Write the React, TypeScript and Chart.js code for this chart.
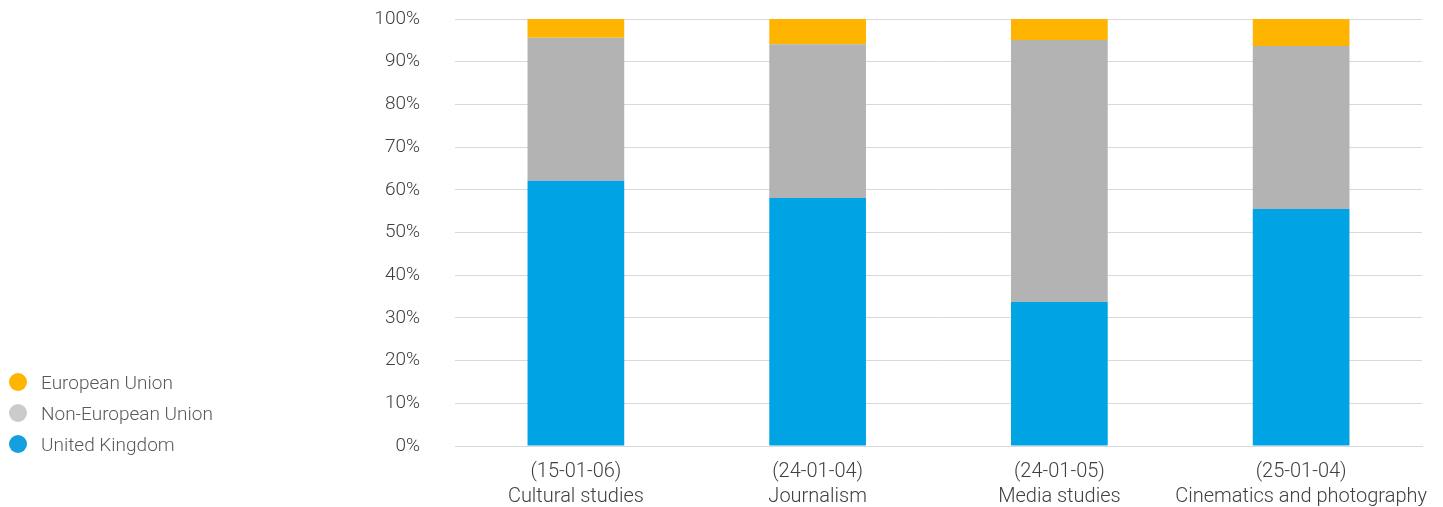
import React, { useEffect, useRef } from "react";
import { Chart, registerables } from "chart.js";

Chart.register(...registerables);

const categories: string[][] = [
  ["(15-01-06)", "Cultural studies"],
  ["(24-01-04)", "Journalism"],
  ["(24-01-05)", "Media studies"],
  ["(25-01-04)", "Cinematics and photography"],
];
const unitedKingdom = [62.1, 58.1, 33.7, 55.5];
const nonEuropeanUnion = [33.5, 36.0, 61.4, 38.2];
const europeanUnion = [4.4, 5.9, 4.9, 6.3];
const yTicks = [0, 10, 20, 30, 40, 50, 60, 70, 80, 90, 100];

const seriesNames = ["United Kingdom", "Non-European Union", "European Union"];
const seriesColors = ["#00A3E4", "#B3B3B3", "#FFB400"];
const legendColors = ["#14A0DE", "#CBCBCB", "#FFB400"];

const FAMILY = "Roboto, 'Liberation Sans', sans-serif";

export default function App() {
  const ref = useRef<HTMLCanvasElement | null>(null);
  useEffect(() => {
    if (!ref.current) return;
    const tickFont = { family: FAMILY, size: 19, weight: "300" as any, lineHeight: 1.2 };
    const xFont = { family: FAMILY, size: 20, weight: "300" as any, lineHeight: 1.25 };
    const chart = new Chart(ref.current, {
      type: "bar",
      data: {
        labels: categories,
        datasets: [
          { label: seriesNames[0], data: unitedKingdom, backgroundColor: seriesColors[0] },
          { label: seriesNames[1], data: nonEuropeanUnion, backgroundColor: seriesColors[1] },
          { label: seriesNames[2], data: europeanUnion, backgroundColor: seriesColors[2] },
        ],
      },
      options: {
        animation: false,
        responsive: false,
        maintainAspectRatio: false,
        layout: { padding: { top: 19, right: 21, bottom: 0, left: 0 } },
        datasets: { bar: { barPercentage: 0.4, categoryPercentage: 1.0 } },
        plugins: {
          tooltip: { enabled: false },
          legend: { display: false },
        },
        scales: {
          x: {
            stacked: true,
            afterFit: (s: any) => { s.height = 61; },
            grid: { display: false, drawTicks: false },
            border: { display: true, color: "#d9d9d9" },
            ticks: { color: "#404040", font: xFont, padding: 13, maxRotation: 0, autoSkip: false },
          },
          y: {
            stacked: true,
            min: 0,
            max: 100,
            afterFit: (s: any) => { s.width = 455; },
            afterBuildTicks: (s: any) => { s.ticks = yTicks.map((v) => ({ value: v })); },
            grid: { color: "#d9d9d9", drawTicks: true, tickLength: 35, tickColor: "rgba(0,0,0,0)" },
            border: { display: false },
            ticks: {
              color: "#404040",
              font: tickFont,
              padding: 0,
              callback: (v: any) => v + "%",
            },
          },
        },
      },
    });
    return () => chart.destroy();
  }, []);

  const legendOrder = [2, 1, 0];
  const legendTops = [382, 413, 444];
  return (
    <div style={{ position: "fixed", left: 0, top: 0, width: 1443, height: 507, background: "#fff" }}>
      <canvas ref={ref} width={1443} height={507} style={{ position: "absolute", left: 0, top: 0 }} />
      {legendOrder.map((idx, i) => (
        <div
          key={seriesNames[idx]}
          style={{
            position: "absolute",
            left: 9,
            top: legendTops[i] - 12,
            height: 24,
            display: "flex",
            alignItems: "center",
            fontFamily: FAMILY,
            fontWeight: 300,
            fontSize: 19,
            color: "#595959",
            whiteSpace: "nowrap",
          }}
        >
          <span
            style={{
              display: "inline-block",
              width: 18,
              height: 18,
              borderRadius: "50%",
              background: legendColors[idx],
              marginRight: 14,
            }}
          />
          <span>{seriesNames[idx]}</span>
        </div>
      ))}
    </div>
  );
}
